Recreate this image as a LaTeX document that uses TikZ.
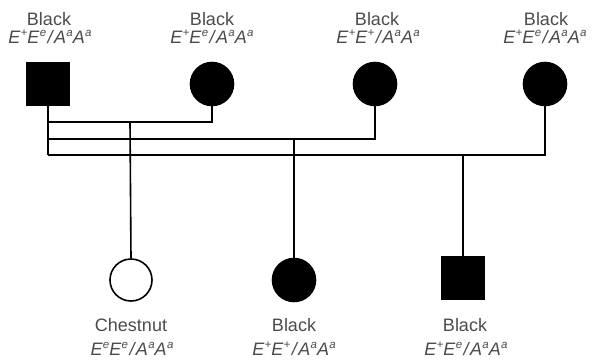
\documentclass[tikz,border=0pt]{standalone}
\usepackage{fontspec}
\setmainfont{Liberation Sans}
\newcommand{\sps}[1]{\raisebox{0.36em}{\fontsize{11.5pt}{11.5pt}\selectfont\itshape #1}}
\newcommand{\geno}[4]{{\itshape E\kern0.3pt\sps{#1}E\kern0.3pt\sps{#2}\kern1.5pt/\kern1.5pt A\kern0.3pt\sps{#3}A\kern0.3pt\sps{#4}}}
\begin{document}
\begin{tikzpicture}[x=1pt,y=-1pt,
  male/.style={draw=black,line width=1.6pt,fill=black,rectangle,minimum size=42pt,inner sep=0pt},
  female/.style={draw=black,line width=1.6pt,fill=black,circle,minimum size=43pt,inner sep=0pt},
  femaleopen/.style={draw=black,line width=1.6pt,fill=white,circle,minimum size=42pt,inner sep=0pt},
  lbl/.style={anchor=base,inner sep=0pt,text=black!70,font=\fontsize{18pt}{20pt}\selectfont},
  conn/.style={line width=1.6pt}]
\useasboundingbox[fill=white] (0,0) rectangle (592,360);
% parents
\node[male] (s1) at (48,84) {};
\node[female] (c1) at (212,84) {};
\node[female] (c2) at (375,84) {};
\node[female] (c3) at (545,84) {};
\node[lbl] (s1a) at (49,25) {Black};
\node[lbl] (s1b) at (50,43) {\geno{+}{e}{a}{a}};
\node[lbl] (c1a) at (212,25) {Black};
\node[lbl] (c1b) at (212,43) {\geno{+}{e}{a}{a}};
\node[lbl] (c2a) at (377,25) {Black};
\node[lbl] (c2b) at (378,43) {\geno{+}{+}{a}{a}};
\node[lbl] (c3a) at (546,25) {Black};
\node[lbl] (c3b) at (545,43) {\geno{+}{e}{a}{a}};
% offspring
\node[femaleopen] (k1) at (131,280) {};
\node[female] (k2) at (294,280) {};
\node[male] (k3) at (463,278) {};
\node[lbl] (k1a) at (131,331) {Chestnut};
\node[lbl] (k1b) at (132,355) {\geno{e}{e}{a}{a}};
\node[lbl] (k2a) at (294,331) {Black};
\node[lbl] (k2b) at (294,355) {\geno{+}{+}{a}{a}};
\node[lbl] (k3a) at (465,331) {Black};
\node[lbl] (k3b) at (466,355) {\geno{+}{e}{a}{a}};
% mating lines
\coordinate (m1) at (130,122);
\coordinate (m2) at (294,139);
\coordinate (m3) at (463,155);
\draw[conn] (s1.south) -- (s1.south |- m3);
\draw[conn] (s1.south |- m1) -| (c1.south);
\draw[conn] (s1.south |- m2) -| (c2.south);
\draw[conn] (s1.south |- m3) -| (c3.south);
\draw[conn] (m1) -- (k1.north);
\draw[conn] (m2) -- (k2.north);
\draw[conn] (m3) -- (k3.north);
\end{tikzpicture}
\end{document}
